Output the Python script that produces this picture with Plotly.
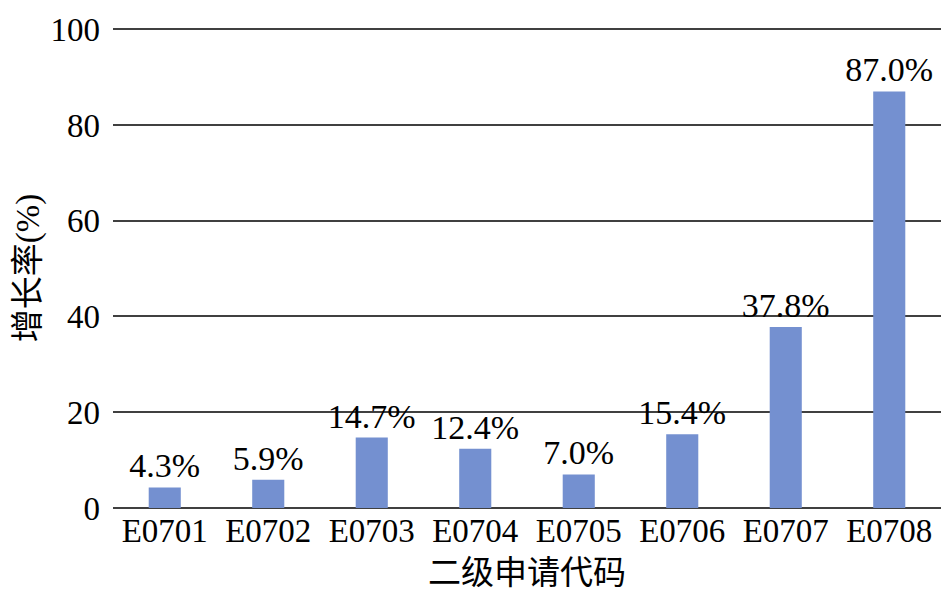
import plotly.graph_objects as go

categories = ["E0701", "E0702", "E0703", "E0704", "E0705", "E0706", "E0707", "E0708"]
growth = [4.3, 5.9, 14.7, 12.4, 7.0, 15.4, 37.8, 87.0]
y_ticks = [0, 20, 40, 60, 80, 100]

FONT = "Liberation Serif, Times New Roman, Noto Sans CJK SC, serif"

fig = go.Figure(go.Bar(
    x=categories, y=growth,
    marker=dict(color="#7490D0", line=dict(width=0)),
    texttemplate="%{y:.1f}%", textposition="outside",
    textfont=dict(family=FONT, size=34, color="#000000"),
    constraintext="none",
    cliponaxis=False,
))

fig.update_layout(
    width=949, height=607,
    margin=dict(l=113, r=8, t=28, b=99),
    paper_bgcolor="white", plot_bgcolor="white",
    font=dict(family=FONT, size=33, color="#000000"),
    bargap=0.69,
    showlegend=False,
    xaxis=dict(
        title=dict(text="二级申请代码", font=dict(family=FONT, size=33), standoff=12),
        showgrid=False, showline=False, ticks="",
        tickfont=dict(family=FONT, size=33),
    ),
    yaxis=dict(
        title=dict(text="增长率(%)", font=dict(family=FONT, size=33), standoff=0),
        range=[0, 100.25], tickvals=y_ticks, ticktext=[str(v) for v in y_ticks],
        showgrid=True, gridcolor="#404040", gridwidth=1.6,
        zeroline=True, zerolinecolor="#404040", zerolinewidth=1.6,
        showline=False, ticks="", ticklabelstandoff=12,
        tickfont=dict(family=FONT, size=33),
    ),
)

fig.write_html("out.html")
